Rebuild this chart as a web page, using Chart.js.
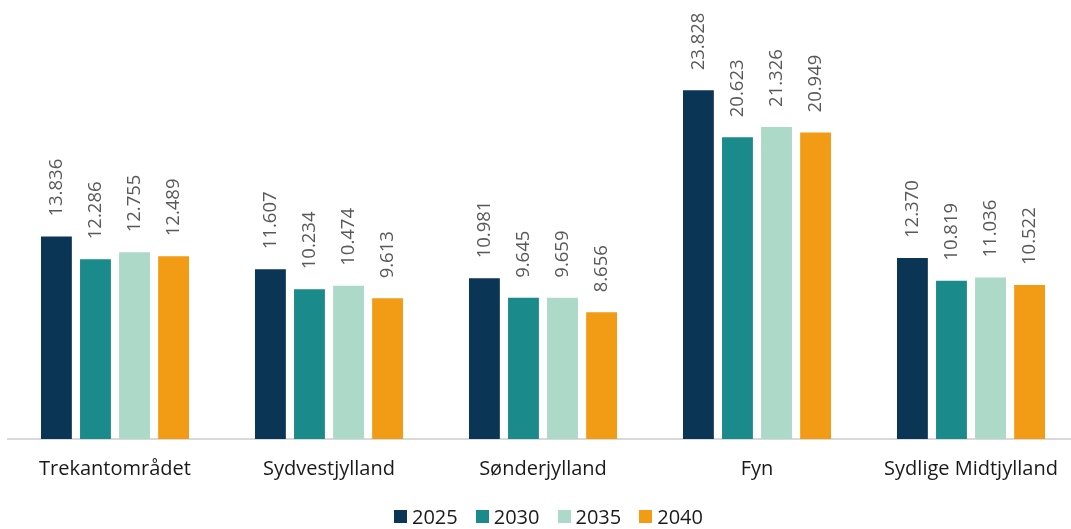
<!DOCTYPE html>
<html>
<head>
<meta charset="utf-8">
<script src="https://cdn.jsdelivr.net/npm/chart.js@4"></script>
<style>
  html, body { margin: 0; padding: 0; background: #fff; overflow: hidden; }
  #wrap { position: relative; width: 1078px; height: 529px; }
  #legend {
    position: absolute; left: 394px; top: 503px;
    display: flex; align-items: center;
    font-family: 'Open Sans', sans-serif; font-size: 20px; color: #1a1a1a;
  }
  #legend .item { display: flex; align-items: center; margin-right: 18px; }
  #legend .box { width: 13px; height: 13px; margin-right: 5px; }
</style>
</head>
<body>
<div id="wrap">
  <canvas id="chart"></canvas>
  <div id="legend"></div>
</div>
<script>
// Kategorier og serier (antal)
const regions = ['Trekantområdet', 'Sydvestjylland', 'Sønderjylland', 'Fyn', 'Sydlige Midtjylland'];
const years = ['2025', '2030', '2035', '2040'];
const values2025 = [13836, 11607, 10981, 23828, 12370];
const values2030 = [12286, 10234, 9645, 20623, 10819];
const values2035 = [12755, 10474, 9659, 21326, 11036];
const values2040 = [12489, 9613, 8656, 20949, 10522];
const colors = ['#0b3554', '#1a8a8a', '#acd9c8', '#f29b14'];

const FONT = "'Open Sans', sans-serif";

// tusindtalsseparator med punktum
function fmt(v) {
    return String(v).replace(/\B(?=(\d{3})+(?!\d))/g, '.');
}

// Lodrette værdi-labels over søjlerne
const barLabels = {
    id: 'barLabels',
    afterDatasetsDraw(chart) {
        const ctx = chart.ctx;
        ctx.save();
        ctx.font = '18.5px ' + FONT;
        ctx.fillStyle = '#595959';
        ctx.textAlign = 'left';
        ctx.textBaseline = 'middle';
        chart.data.datasets.forEach((ds, i) => {
            chart.getDatasetMeta(i).data.forEach((bar, j) => {
                ctx.save();
                ctx.translate(bar.x, bar.y - 20);
                ctx.rotate(-Math.PI / 2);
                ctx.fillText(fmt(ds.data[j]), 0, 0);
                ctx.restore();
            });
        });
        ctx.restore();
    }
};

const allValues = [values2025, values2030, values2035, values2040];

new Chart(document.getElementById('chart'), {
    type: 'bar',
    data: {
        labels: regions,
        datasets: years.map((y, i) => ({
            label: y,
            data: allValues[i],
            backgroundColor: colors[i],
            barPercentage: 0.79,
            categoryPercentage: 0.73
        }))
    },
    options: {
        responsive: true,
        maintainAspectRatio: false,
        animation: false,
        layout: { padding: { left: 8, right: 0, top: 0, bottom: 30 } },
        plugins: {
            legend: { display: false },
            tooltip: { enabled: false }
        },
        scales: {
            x: {
                grid: { display: false, drawTicks: false },
                border: { color: '#d9d9d9', width: 2 },
                ticks: {
                    font: { family: FONT, size: 20 },
                    color: '#1a1a1a',
                    padding: 18
                }
            },
            y: {
                display: false,
                min: 0,
                max: 30000
            }
        }
    },
    plugins: [barLabels]
});

// HTML-legende
const legendEl = document.getElementById('legend');
years.forEach((y, i) => {
    const item = document.createElement('div');
    item.className = 'item';
    item.innerHTML = `<span class="box" style="background:${colors[i]}"></span>${y}`;
    legendEl.appendChild(item);
});
</script>
</body>
</html>
